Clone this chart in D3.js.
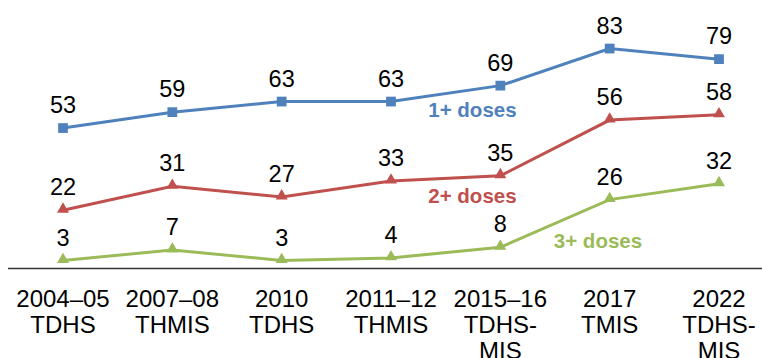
<!DOCTYPE html>
<html>
<head>
<meta charset="utf-8">
<script src="https://cdn.jsdelivr.net/npm/d3@7"></script>
<style>
  html, body { margin: 0; padding: 0; background: #fff; }
  svg { display: block; }
</style>
</head>
<body>
<svg id="chart" width="762" height="358"></svg>
<script>
// Survey rounds (two or three lines each)
const categories = [
  ["2004–05", "TDHS"],
  ["2007–08", "THMIS"],
  ["2010", "TDHS"],
  ["2011–12", "THMIS"],
  ["2015–16", "TDHS-", "MIS"],
  ["2017", "TMIS"],
  ["2022", "TDHS-", "MIS"]
];

// Percent of women receiving IPTp doses
const dose1 = [53, 59, 63, 63, 69, 83, 79];
const dose2 = [22, 31, 27, 33, 35, 56, 58];
const dose3 = [3, 7, 3, 4, 8, 26, 32];

const seriesNames = ["1+ doses", "2+ doses", "3+ doses"];
const seriesColors = ["#4F81BD", "#C0504D", "#9BBB59"];
const seriesMarkers = ["square", "triangle", "triangle"];
// Anchor of each series name: [category position, value level]
const seriesLabelPos = [[3.745, 57.2], [3.745, 24.7], [4.893, 7.7]];

const series = [dose1, dose2, dose3].map((values, i) => ({
  name: seriesNames[i], values, color: seriesColors[i],
  marker: seriesMarkers[i], labelPos: seriesLabelPos[i]
}));

const svg = d3.select("#chart");
const W = 762;

const x = d3.scalePoint()
  .domain(d3.range(categories.length))
  .range([63, 719]);
const step = x(1) - x(0);

const y = d3.scaleLinear()
  .domain([0, 100])
  .range([268.5, 3.5]);

// Horizontal baseline
svg.append("line")
  .attr("x1", 8).attr("x2", W)
  .attr("y1", y(0)).attr("y2", y(0))
  .attr("stroke", "#333").attr("stroke-width", 1.5);

// Category labels
const catG = svg.append("g");
categories.forEach((lines, i) => {
  const t = catG.append("text")
    .attr("x", x(i))
    .attr("y", 307)
    .attr("text-anchor", "middle")
    .attr("font-family", "'Liberation Sans', Arial, sans-serif")
    .attr("font-size", 24)
    .attr("fill", "#000");
  lines.forEach((ln, j) => {
    t.append("tspan").attr("x", x(i)).attr("dy", j === 0 ? 0 : 26).text(ln);
  });
});

const line = d3.line()
  .x((d, i) => x(i))
  .y(d => y(d));

const sq = d3.symbol().type(d3.symbolSquare).size(95);
const tri = d3.symbol().type(d3.symbolTriangle).size(62);

series.forEach(s => {
  const g = svg.append("g");
  g.append("path")
    .datum(s.values)
    .attr("d", line)
    .attr("fill", "none")
    .attr("stroke", s.color)
    .attr("stroke-width", 3);

  g.selectAll("path.m")
    .data(s.values)
    .join("path")
    .attr("class", "m")
    .attr("transform", (d, i) => `translate(${x(i)},${y(d) + (s.marker === "triangle" ? -1 : 0)})`)
    .attr("d", s.marker === "square" ? sq : tri)
    .attr("fill", s.color);

  g.selectAll("text.v")
    .data(s.values)
    .join("text")
    .attr("class", "v")
    .attr("x", (d, i) => x(i))
    .attr("y", d => y(d) - 15)
    .attr("text-anchor", "middle")
    .attr("font-family", "'Liberation Sans', Arial, sans-serif")
    .attr("font-size", 23.5)
    .attr("fill", "#000")
    .text(d => d);
});

// Series name labels
series.forEach(s => {
  svg.append("text")
    .attr("x", x(0) + s.labelPos[0] * step)
    .attr("y", y(s.labelPos[1]))
    .attr("text-anchor", "middle")
    .attr("font-family", "'Liberation Sans', Arial, sans-serif")
    .attr("font-weight", "bold")
    .attr("font-size", 20.5)
    .attr("fill", s.color)
    .text(s.name);
});
</script>
</body>
</html>
